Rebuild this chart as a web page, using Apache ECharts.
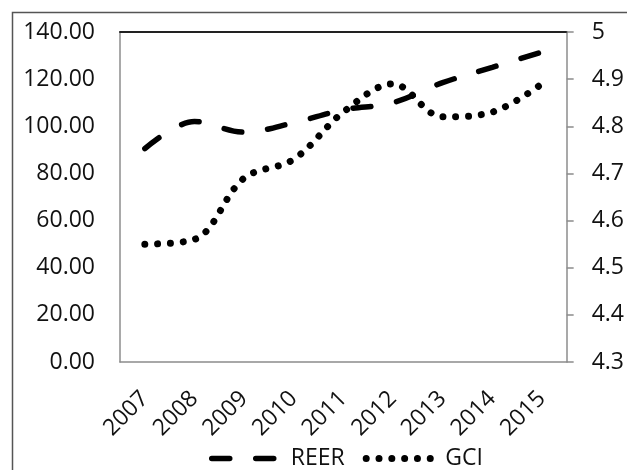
<!DOCTYPE html>
<html>
<head>
<meta charset="utf-8">
<script src="https://cdn.jsdelivr.net/npm/echarts@6/dist/echarts.min.js"></script>
<style>
  html, body { margin: 0; padding: 0; background: #fff; }
  #chart { width: 627px; height: 470px; }
</style>
</head>
<body>
<div id="chart"></div>
<script>
// Years on the category axis
const years = ['2007', '2008', '2009', '2010', '2011', '2012', '2013', '2014', '2015'];
// Real effective exchange rate (left axis)
const reer = [90.5, 102, 97.5, 101.5, 107, 110, 118.5, 125, 131.5];
// Global competitiveness index score (right axis)
const gci = [4.55, 4.56, 4.69, 4.73, 4.83, 4.89, 4.82, 4.83, 4.89];
// Left axis scale
const leftMin = 0, leftMax = 140, leftStep = 20;
// Right axis scale
const rightMin = 4.3, rightMax = 5.0, rightStep = 0.1;

const font = '"Open Sans", "Noto Sans", sans-serif';
const axisGray = '#8c8c8c';
const textColor = '#111';

const reerLine = { color: '#000', width: 5.5, type: [18, 26], cap: 'round' };
const gciLine = { color: '#000', width: 7, type: [0.01, 12.8], cap: 'round' };

const chart = echarts.init(document.getElementById('chart'), null, { renderer: 'canvas' });

chart.setOption({
  animation: false,
  backgroundColor: '#fff',
  textStyle: { fontFamily: font },
  grid: { left: 120, right: 59, top: 32, bottom: 108 },
  graphic: [{
    type: 'polyline',
    shape: { points: [[12.5, 470], [12.5, 12.5], [627, 12.5]] },
    style: { stroke: '#555', lineWidth: 1.5, fill: null },
    silent: true
  }],
  legend: {
    bottom: -5,
    left: 204,
    itemWidth: 74,
    itemHeight: 10,
    itemGap: 18,
    itemStyle: { opacity: 0 },
    textStyle: { fontFamily: font, fontSize: 23, color: textColor },
    data: [
      { name: 'REER', lineStyle: reerLine },
      { name: 'GCI', lineStyle: gciLine }
    ]
  },
  xAxis: [{
    type: 'category',
    data: years,
    boundaryGap: true,
    axisLine: { lineStyle: { color: axisGray, width: 1.5 } },
    axisTick: { show: false },
    axisLabel: {
      rotate: 45,
      margin: 33,
      fontFamily: font,
      fontSize: 23,
      color: textColor
    }
  }, {
    type: 'category',
    data: years,
    position: 'top',
    boundaryGap: true,
    axisLine: { lineStyle: { color: '#222', width: 2 } },
    axisTick: { show: false },
    axisLabel: { show: false }
  }],
  yAxis: [{
    type: 'value',
    min: leftMin,
    max: leftMax,
    interval: leftStep,
    position: 'left',
    axisLine: { show: true, lineStyle: { color: axisGray, width: 1.5 } },
    axisTick: { show: false },
    splitLine: { show: false },
    axisLabel: {
      margin: 25,
      fontFamily: font,
      fontSize: 23,
      color: textColor,
      formatter: v => v.toFixed(2)
    }
  }, {
    type: 'value',
    min: rightMin,
    max: rightMax,
    interval: rightStep,
    position: 'right',
    axisLine: { show: true, lineStyle: { color: axisGray, width: 1.5 } },
    axisTick: { show: true, length: 7, lineStyle: { color: axisGray, width: 1.5 } },
    splitLine: { show: false },
    axisLabel: {
      margin: 25,
      fontFamily: font,
      fontSize: 23,
      color: textColor,
      formatter: v => String(Math.round(v * 10) / 10)
    }
  }],
  series: [{
    name: 'REER',
    type: 'line',
    data: reer,
    yAxisIndex: 0,
    smooth: 0.35,
    symbol: 'none',
    itemStyle: { color: '#000' },
    lineStyle: reerLine
  }, {
    name: 'GCI',
    type: 'line',
    data: gci,
    yAxisIndex: 1,
    smooth: 0.35,
    symbol: 'none',
    itemStyle: { color: '#000' },
    lineStyle: gciLine
  }]
});
</script>
</body>
</html>
